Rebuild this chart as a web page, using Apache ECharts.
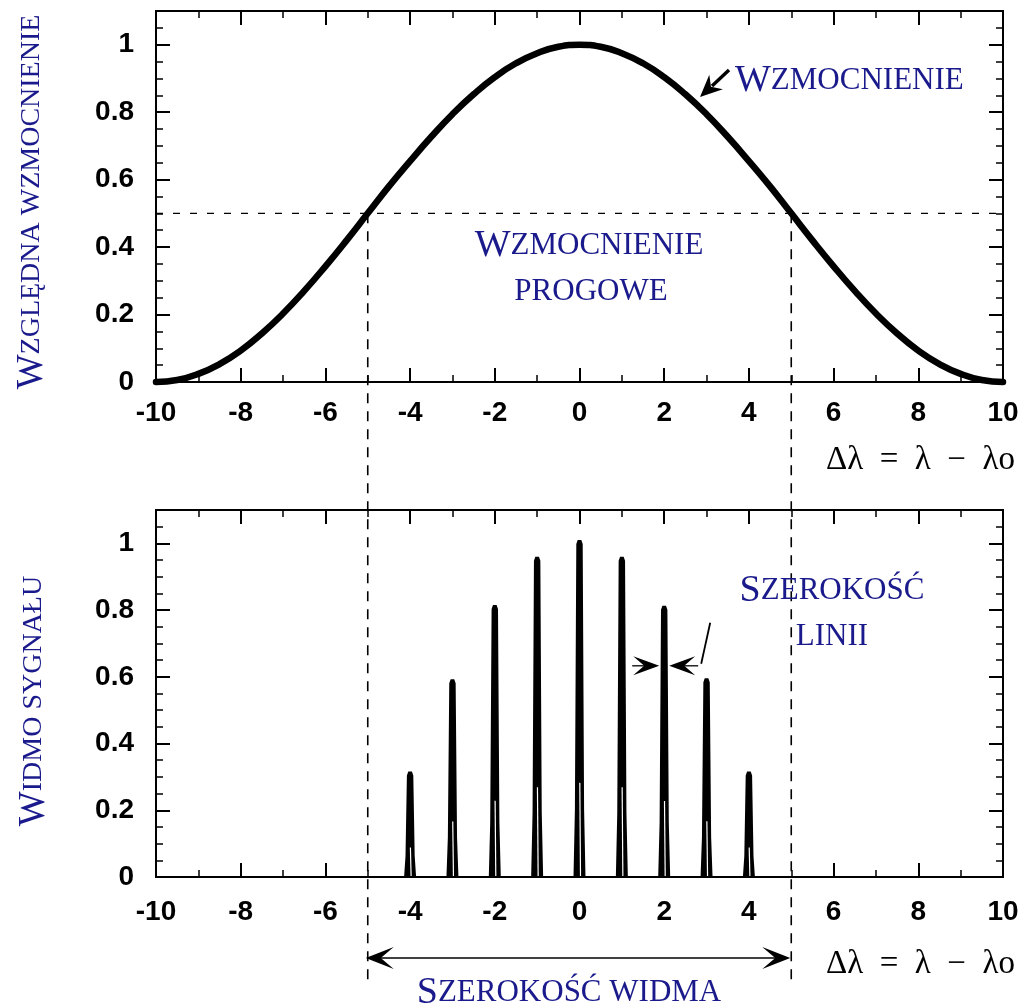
<!DOCTYPE html>
<html><head><meta charset="utf-8">
<script src="https://cdn.jsdelivr.net/npm/echarts/dist/echarts.min.js"></script>
<style>html,body{margin:0;padding:0;background:#fff}#c{width:1032px;height:1008px}</style>
</head><body><div id="c"></div>
<script>
// ---- data ----
const gainX = [-10,-9.5,-9,-8.5,-8,-7.5,-7,-6.5,-6,-5.5,-5,-4.5,-4,-3.5,-3,-2.5,-2,-1.5,-1,-0.5,0,
               0.5,1,1.5,2,2.5,3,3.5,4,4.5,5,5.5,6,6.5,7,7.5,8,8.5,9,9.5,10];
const gainY = [0,0.006,0.024,0.053,0.093,0.144,0.203,0.27,0.343,0.42,0.5,0.58,0.655,0.727,0.794,0.853,0.904,0.945,0.975,0.994,1,
               0.994,0.975,0.945,0.904,0.853,0.794,0.727,0.655,0.58,0.5,0.42,0.343,0.27,0.203,0.144,0.093,0.053,0.024,0.006,0];
const lineX = [-4,-3,-2,-1,0,1,2,3,4];
const lineY = [0.316,0.593,0.815,0.96,1.01,0.96,0.813,0.596,0.316];
const threshold = 0.5;          // wzmocnienie progowe
const bandEdges = [-5, 5];      // szerokość widma
const lineWidthMark = [2, 0.633];
const xMin = -10, xMax = 10, xStep = 2;
const yMin = 0, yMax = 1.1, yStep = 0.2, yMinorStep = 0.05;

const NAVY = '#1a1a8c';
const SANS = 'Liberation Sans';
const SERIF = 'Liberation Serif';

const chart = echarts.init(document.getElementById('c'), null, {renderer: 'canvas'});

const grids = [
  {left: 156, top: 11, width: 847, height: 371},
  {left: 156, top: 510, width: 847, height: 367}
];

function xAx(g, pos, labels, margin) {
  return {
    type: 'value', gridIndex: g, position: pos, min: xMin, max: xMax, interval: xStep,
    axisLine: {show: true, onZero: false, lineStyle: {color: '#000', width: 2}},
    axisTick: {show: true, inside: true, length: 14, lineStyle: {color: '#000', width: 2}},
    minorTick: {show: true, splitNumber: 2, length: 7, lineStyle: {color: '#000', width: 1.5}},
    axisLabel: {show: labels, margin: margin, color: '#000', fontFamily: SANS, fontSize: 28, fontWeight: 'bold'},
    splitLine: {show: false}, minorSplitLine: {show: false}
  };
}
function yAx(g, pos, major, labels) {
  return {
    type: 'value', gridIndex: g, position: pos, min: yMin, max: yMax,
    interval: major ? yStep : yMinorStep,
    axisLine: {show: true, onZero: false, lineStyle: {color: '#000', width: 2}},
    axisTick: {show: true, inside: true, length: major ? 14 : 7, lineStyle: {color: '#000', width: major ? 2 : 1.5}},
    axisLabel: {show: labels, margin: 22, color: '#000', fontFamily: SANS, fontSize: 28, fontWeight: 'bold', showMaxLabel: false},
    splitLine: {show: false}
  };
}

const xAxes = [xAx(0, 'bottom', true, 17), xAx(0, 'top', false, 0),
               xAx(1, 'bottom', true, 21), xAx(1, 'top', false, 0)];
const yAxes = [yAx(0, 'left', true, true), yAx(0, 'left', false, false),
               yAx(0, 'right', true, false), yAx(0, 'right', false, false),
               yAx(1, 'left', true, true), yAx(1, 'left', false, false),
               yAx(1, 'right', true, false), yAx(1, 'right', false, false)];

chart.setOption({
  animation: false,
  backgroundColor: '#fff',
  grid: grids.map(g => Object.assign({show: true, borderColor: '#000', borderWidth: 2, backgroundColor: 'transparent', outerBoundsMode: 'none', containLabel: false}, g)),
  xAxis: xAxes,
  yAxis: yAxes,
  series: [
    {
      type: 'line', xAxisIndex: 0, yAxisIndex: 0,
      data: gainX.map((x, i) => [x, gainY[i]]),
      symbol: 'none', smooth: 0.5, clip: false,
      lineStyle: {color: '#000', width: 6.5, cap: 'round', join: 'round'}
    },
    {
      type: 'custom', xAxisIndex: 2, yAxisIndex: 4,
      data: lineX.map((x, i) => [x, lineY[i]]),
      renderItem: function (params, api) {
        const x = api.value(0), h = api.value(1);
        const b = api.coord([x, 0]), t = api.coord([x, h]);
        const hh = b[1] - t[1];
        return {
          type: 'group',
          children: [
            {type: 'polygon', shape: {points: [
              [b[0] - 6, b[1]], [b[0] - 4.6, b[1] - hh * 0.2], [b[0] - 3.2, t[1] + 4],
              [b[0] - 1.8, t[1]], [b[0] + 1.8, t[1]], [b[0] + 3.2, t[1] + 4],
              [b[0] + 4.6, b[1] - hh * 0.2], [b[0] + 6, b[1]]]},
              style: {fill: '#000'}},
            {type: 'line', shape: {x1: b[0] + 1, y1: b[1] - 1, x2: b[0] + 0.3, y2: b[1] - hh * 0.28},
              style: {stroke: '#fff', lineWidth: 1.2}}
          ]
        };
      }
    }
  ]
});

// ---- annotations placed through the axes ----
function px(gridIdx, pt) {
  return chart.convertToPixel(gridIdx === 0 ? {xAxisIndex: 0, yAxisIndex: 0} : {xAxisIndex: 2, yAxisIndex: 4}, pt);
}
function head(tip, ang, len, half, notch) {
  const c = Math.cos(ang), s = Math.sin(ang);
  const bx = tip[0] - c * len, by = tip[1] - s * len;
  const nx = -s, ny = c;
  const mx = tip[0] - c * (len - notch), my = tip[1] - s * (len - notch);
  return {type: 'polygon', shape: {points: [tip, [bx + nx * half, by + ny * half], [mx, my], [bx - nx * half, by - ny * half]]},
          style: {fill: '#000'}};
}
function line(x1, y1, x2, y2, w, dash) {
  return {type: 'line', shape: {x1, y1, x2, y2}, style: {stroke: '#000', lineWidth: w, lineDash: dash || null}};
}
function txt(x, y, text, rich, align) {
  return {type: 'text', x: x, y: y, style: {text: text, rich: rich, align: align || 'center', verticalAlign: 'middle', fill: NAVY}};
}
const scRich = (big, small) => ({
  a: {fontFamily: SERIF, fontSize: big, fill: NAVY, color: NAVY},
  b: {fontFamily: SERIF, fontSize: small, fill: NAVY, color: NAVY}
});

const hl = px(0, [xMin, threshold]), hr = px(0, [xMax, threshold]);
const vl = px(0, [bandEdges[0], threshold]), vr = px(0, [bandEdges[1], threshold]);
const lw = px(1, lineWidthMark);
const arrowY = 958;

const graphics = [
  line(hl[0], hl[1], hr[0], hr[1], 1.4, [7, 10]),
  line(vl[0], vl[1], vl[0], 985, 1.6, [10, 8]),
  line(vr[0], vr[1], vr[0], 985, 1.6, [10, 8]),
  // spectrum width double arrow
  line(vl[0] + 10, arrowY, vr[0] - 10, arrowY, 1.6),
  head([vl[0] - 2, arrowY], Math.PI, 28, 11, 13),
  head([vr[0] - 1, arrowY], 0, 28, 11, 13),
  // line width arrows
  head([lw[0] - 5, lw[1]], 0, 26, 9.5, 11),
  line(lw[0] - 32, lw[1], lw[0] - 12, lw[1], 1.3),
  head([lw[0] + 5, lw[1]], Math.PI, 26, 9.5, 11),
  line(lw[0] + 12, lw[1], lw[0] + 34, lw[1], 1.3),
  line(lw[0] + 37, lw[1] - 2, lw[0] + 46, lw[1] - 43, 1.8),
  // gain label arrow
  line(729, 70, 712, 86, 3.5),
  head([700, 97], Math.atan2(97 - 70, 700 - 729), 22, 10, 7),
  // texts
  Object.assign(txt(32, 202, '{a|W}{b|ZGLĘDNA WZMOCNIENIE}', scRich(37, 28)), {rotation: Math.PI / 2}),
  Object.assign(txt(34, 701, '{a|W}{b|IDMO SYGNAŁU}', scRich(37, 28)), {rotation: Math.PI / 2}),
  txt(735, 81, '{a|W}{b|ZMOCNIENIE}', scRich(38, 31), 'left'),
  txt(589, 246, '{a|W}{b|ZMOCNIENIE}', scRich(38, 31)),
  txt(591, 292, '{b|PROGOWE}', scRich(38, 31)),
  txt(832, 591, '{a|S}{b|ZEROKOŚĆ}', scRich(38, 31)),
  txt(832, 637, '{b|LINII}', scRich(38, 31)),
  txt(569, 993, '{a|S}{b|ZEROKOŚĆ WIDMA}', scRich(38, 31)),
  {type: 'text', x: 826, y: 460, style: {text: 'Δλ\u2002=\u2002λ\u2002−\u2002λo', font: '33px "Liberation Serif"', fill: '#000', align: 'left', verticalAlign: 'middle'}},
  {type: 'text', x: 826, y: 964, style: {text: 'Δλ\u2002=\u2002λ\u2002−\u2002λo', font: '33px "Liberation Serif"', fill: '#000', align: 'left', verticalAlign: 'middle'}}
];
chart.setOption({graphic: graphics});
</script>
</body></html>
